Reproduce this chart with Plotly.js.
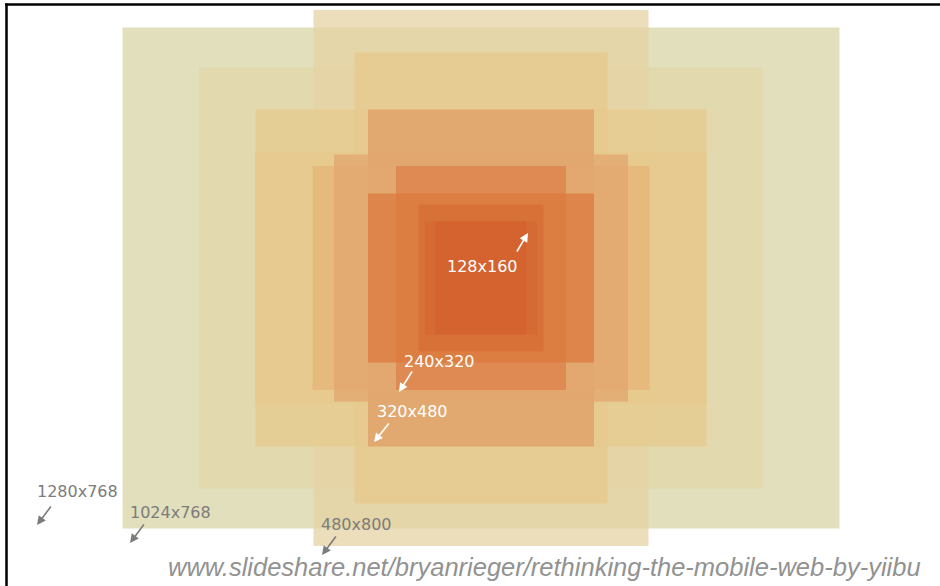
<!DOCTYPE html>
<html>
<head>
<meta charset="utf-8">
<script src="https://cdn.plot.ly/plotly-3.0.1.min.js"></script>
<style>html,body{margin:0;padding:0;background:#fff;}#chart{width:940px;height:586px;}</style>
</head>
<body>
<div id="chart"></div>
<script>
// Screen resolutions drawn as concentric rectangles (drawn size in chart units)
const resolutions = ['1280x768','1024x768','480x800','360x640','640x480','640x360','320x480','480x320','416x352','240x320','320x240','176x208','160x160','128x160'];
const rectWidths  = [717, 564, 335, 253, 451, 451, 226, 337, 294, 170, 226, 125, 112, 91];
const rectHeights = [501, 421, 536, 451, 337, 252, 337, 224, 247, 224, 169, 147, 113, 113];

// styles
const rectColors = [
  [216,212,166],[227,215,169],[230,211,163],[230,200,139],[230,201,142],[229,200,140],
  [223,157,102],[228,180,118],[225,165,111],[220,128,72],[219,121,61],[214,109,52],
  [214,104,52],[211,97,45]
];
const rectAlpha = 0.75;

const traces = resolutions.map((r, i) => {
  const hw = rectWidths[i] / 2, hh = rectHeights[i] / 2;
  const c = rectColors[i];
  return {
    type: 'scatter', mode: 'lines', name: r,
    x: [-hw, hw, hw, -hw, -hw],
    y: [-hh, -hh, hh, hh, -hh],
    fill: 'toself',
    fillcolor: `rgba(${c[0]},${c[1]},${c[2]},${rectAlpha})`,
    line: {width: 0, color: 'rgba(0,0,0,0)'},
    hoverinfo: 'name', showlegend: false
  };
});

// pixel helpers for annotation placement (x: px-481, y: 278-py)
const X = px => px - 481, Y = py => 278 - py;

const labelCfg = [
  {text: '128x160',  tx: 482, ty: 266, tip: [528,233], tail: [516,253], color: '#ffffff'},
  {text: '240x320',  tx: 439, ty: 361, tip: [399,392], tail: [413,370], color: '#ffffff'},
  {text: '320x480',  tx: 412, ty: 411, tip: [374,442], tail: [390,422], color: '#ffffff'},
  {text: '1280x768', tx: 77,  ty: 491, tip: [37,525],  tail: [52,505],  color: '#7c7c7c'},
  {text: '1024x768', tx: 170, ty: 512, tip: [130,543], tail: [145,523], color: '#7c7c7c'},
  {text: '480x800',  tx: 356, ty: 524, tip: [322,555], tail: [337,535], color: '#7c7c7c'}
];

const annotations = [];
labelCfg.forEach(l => {
  annotations.push({
    x: X(l.tx), y: Y(l.ty), xref: 'x', yref: 'y', text: l.text, showarrow: false,
    font: {family: 'DejaVu Sans', size: 16, color: l.color}
  });
  annotations.push({
    x: X(l.tip[0]), y: Y(l.tip[1]), xref: 'x', yref: 'y',
    ax: X(l.tail[0]), ay: Y(l.tail[1]), axref: 'x', ayref: 'y',
    text: '', showarrow: true, arrowhead: 2, arrowsize: 1.1, arrowwidth: 1.6,
    arrowcolor: l.color
  });
});
annotations.push({
  x: X(923), y: Y(567), xref: 'x', yref: 'y', xanchor: 'right', yanchor: 'middle',
  text: '<i>www.slideshare.net/bryanrieger/rethinking-the-mobile-web-by-yiibu</i>',
  showarrow: false,
  font: {family: 'Liberation Sans', size: 25.5, color: '#929292'}
});

const layout = {
  width: 940, height: 586,
  margin: {l: 0, r: 0, t: 0, b: 0, pad: 0},
  paper_bgcolor: '#ffffff', plot_bgcolor: '#ffffff',
  xaxis: {range: [X(0), X(940)], visible: false, fixedrange: true},
  yaxis: {range: [Y(586), Y(0)], visible: false, fixedrange: true},
  showlegend: false,
  annotations: annotations,
  shapes: [
    {type: 'line', xref: 'paper', yref: 'paper', x0: 5/940, x1: 1, y0: 1 - 4.5/586, y1: 1 - 4.5/586, line: {color: '#000', width: 2.5}},
    {type: 'line', xref: 'paper', yref: 'paper', x0: 6.5/940, x1: 6.5/940, y0: 0, y1: 1 - 3.5/586, line: {color: '#000', width: 2.5}}
  ]
};

Plotly.newPlot('chart', traces, layout, {displayModeBar: false, staticPlot: true});
</script>
</body>
</html>
